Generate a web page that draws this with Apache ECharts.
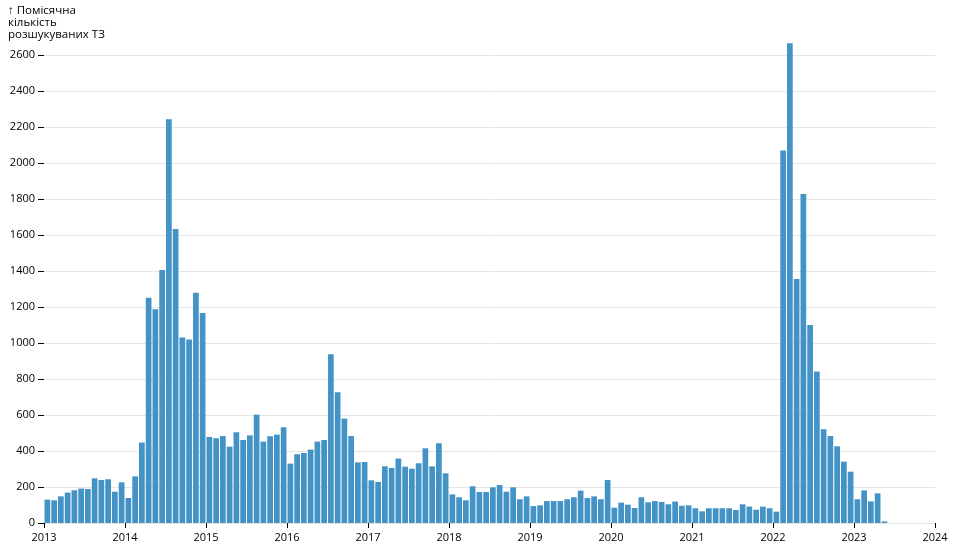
<!DOCTYPE html>
<html><head><meta charset="utf-8">
<script src="https://cdn.jsdelivr.net/npm/echarts@6/dist/echarts.min.js"></script>
<style>html,body{margin:0;padding:0;background:#fff}#c{width:956px;height:554px}</style>
</head><body><div id="c"></div>
<script>
const startYear = 2013;
const yearTicks = [2013,2014,2015,2016,2017,2018,2019,2020,2021,2022,2023,2024];
const v2013 = [130,126,148,169,182,191,189,248,239,243,174,226];
const v2014 = [139,259,447,1252,1188,1405,2243,1633,1030,1019,1279,1166];
const v2015 = [478,471,483,424,504,461,487,602,452,482,491,532];
const v2016 = [330,382,389,408,452,461,937,726,580,483,337,339];
const v2017 = [237,228,315,306,358,313,302,332,415,315,443,276];
const v2018 = [159,143,126,204,172,172,198,211,174,198,132,148];
const v2019 = [94,98,122,122,122,132,143,180,139,148,132,239];
const v2020 = [85,113,102,83,143,115,122,117,104,119,96,98];
const v2021 = [82,65,82,82,82,82,72,104,91,74,91,82];
const v2022 = [63,2069,2665,1356,1828,1100,841,521,483,426,341,285];
const v2023 = [132,181,120,165,9];
const monthly = [].concat(v2013,v2014,v2015,v2016,v2017,v2018,v2019,v2020,v2021,v2022,v2023);
const data = monthly.map((v,i)=>[i+0.5, v]);
const font = '"Open Sans", sans-serif';
const chart = echarts.init(document.getElementById('c'));
chart.setOption({
  animation:false,
  title:{text:'↑ Помісячна\nкількість\nрозшукуваних ТЗ', left:3, top:0,
    textStyle:{fontSize:11.5, fontWeight:'normal', color:'#000', fontFamily:font, lineHeight:12}},
  grid:{left:44, right:21, top:55, bottom:31, containLabel:false},
  xAxis:{type:'value', min:0, max:(yearTicks.length-1)*12, interval:12,
    axisLine:{show:false}, splitLine:{show:false},
    axisTick:{show:true, length:5, lineStyle:{color:'#000'}},
    axisLabel:{color:'#000', fontSize:11, fontFamily:font, margin:9,
      formatter:v=>String(startYear + v/12)}},
  yAxis:{type:'value', min:0, max:2600, interval:200,
    axisLine:{show:false},
    axisTick:{show:true, length:6, lineStyle:{color:'#000'}},
    axisLabel:{color:'#000', fontSize:11, fontFamily:font, margin:9,
      formatter:v=>String(v)},
    splitLine:{show:true, lineStyle:{color:'#e5e5e5'}}},
  series:[{type:'bar', data:data, barWidth:5.7, clip:false,
    itemStyle:{color:'#4493c6'}}]
});
</script></body></html>
